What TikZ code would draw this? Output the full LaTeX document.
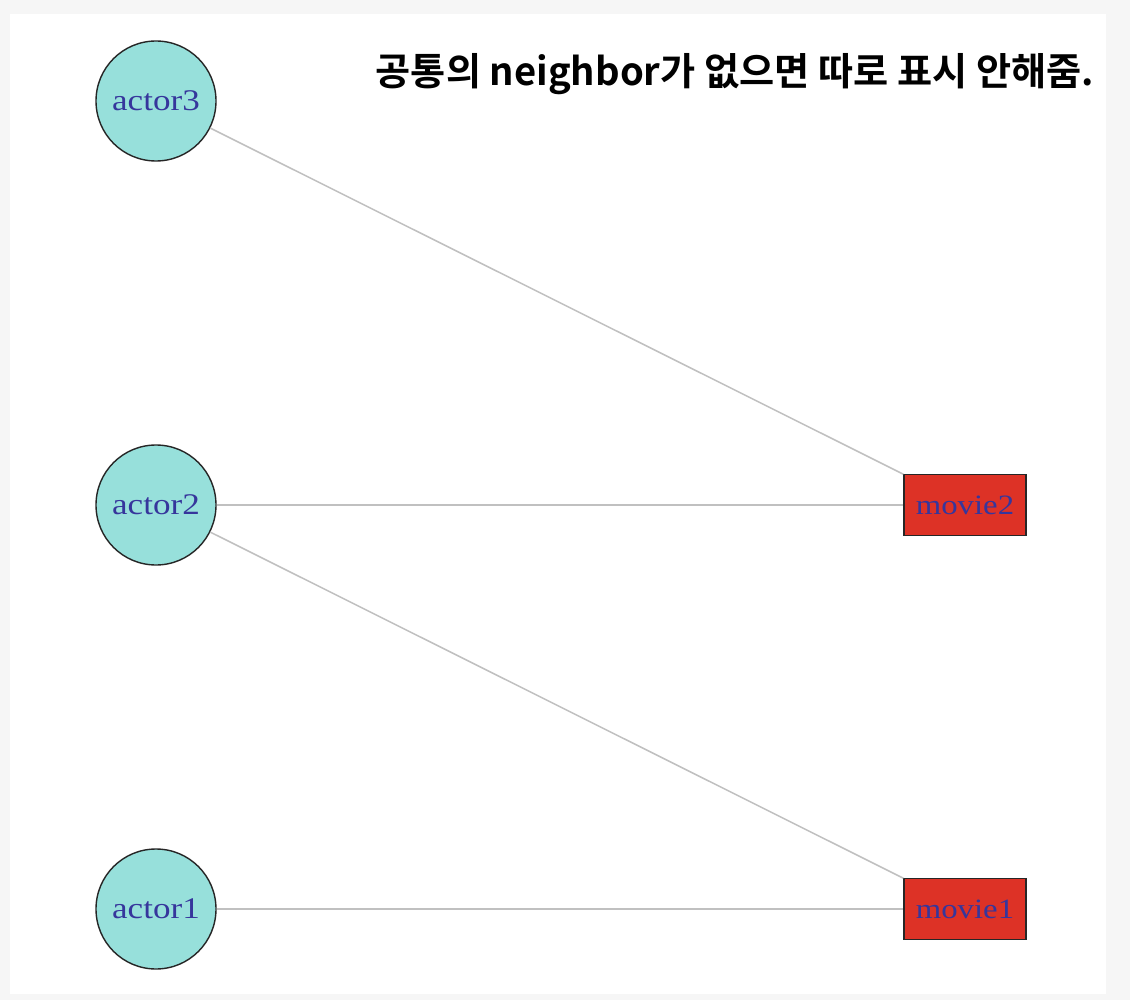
\documentclass[tikz,border=0pt]{standalone}
\usepackage{fontspec}
\newfontfamily\lblfont[FakeStretch=1.17]{Liberation Serif}
\newfontfamily\krfont{Noto Sans CJK KR Bold}
\definecolor{actorfill}{HTML}{97E0DB}
\definecolor{moviefill}{HTML}{DD3226}
\definecolor{lblcol}{HTML}{36369C}
\definecolor{edgecol}{HTML}{C0C0C0}
\definecolor{outerbg}{HTML}{F6F6F6}
\begin{document}
\begin{tikzpicture}[x=1pt,y=-1pt,
  actor/.style={circle,draw=black!85,line width=1.4pt,fill=actorfill,minimum size=120pt,inner sep=0pt,text=lblcol,font=\lblfont\fontsize{30}{31}\selectfont},
  movie/.style={rectangle,draw=black!85,line width=1.4pt,fill=moviefill,minimum width=122pt,minimum height=61pt,inner sep=0pt,text=lblcol,font=\lblfont\fontsize{28}{30}\selectfont},
  edge/.style={draw=edgecol,line width=1.5pt},
  note/.style={font=\krfont\fontsize{38.2}{42}\selectfont,text=black,inner sep=0pt}]
\fill[outerbg] (0,0) rectangle (1130,1000);
\useasboundingbox (0,0) rectangle (1130,1000);
\fill[white] (10,14) rectangle (1106,994);
\node[actor] (a3) at (156,101) {actor3};
\node[actor] (a2) at (156,505) {actor2};
\node[actor] (a1) at (156,909) {actor1};
\node[movie] (m2) at (965,505) {movie2};
\node[movie] (m1) at (965,909) {movie1};
\draw[edge] (a3) -- (m2);
\draw[edge] (a2) -- (m2);
\draw[edge] (a2) -- (m1);
\draw[edge] (a1) -- (m1);
\node[note] (txt) at (735,74) {공통의 neighbor가 없으면 따로 표시 안해줌.};
\end{tikzpicture}
\end{document}
